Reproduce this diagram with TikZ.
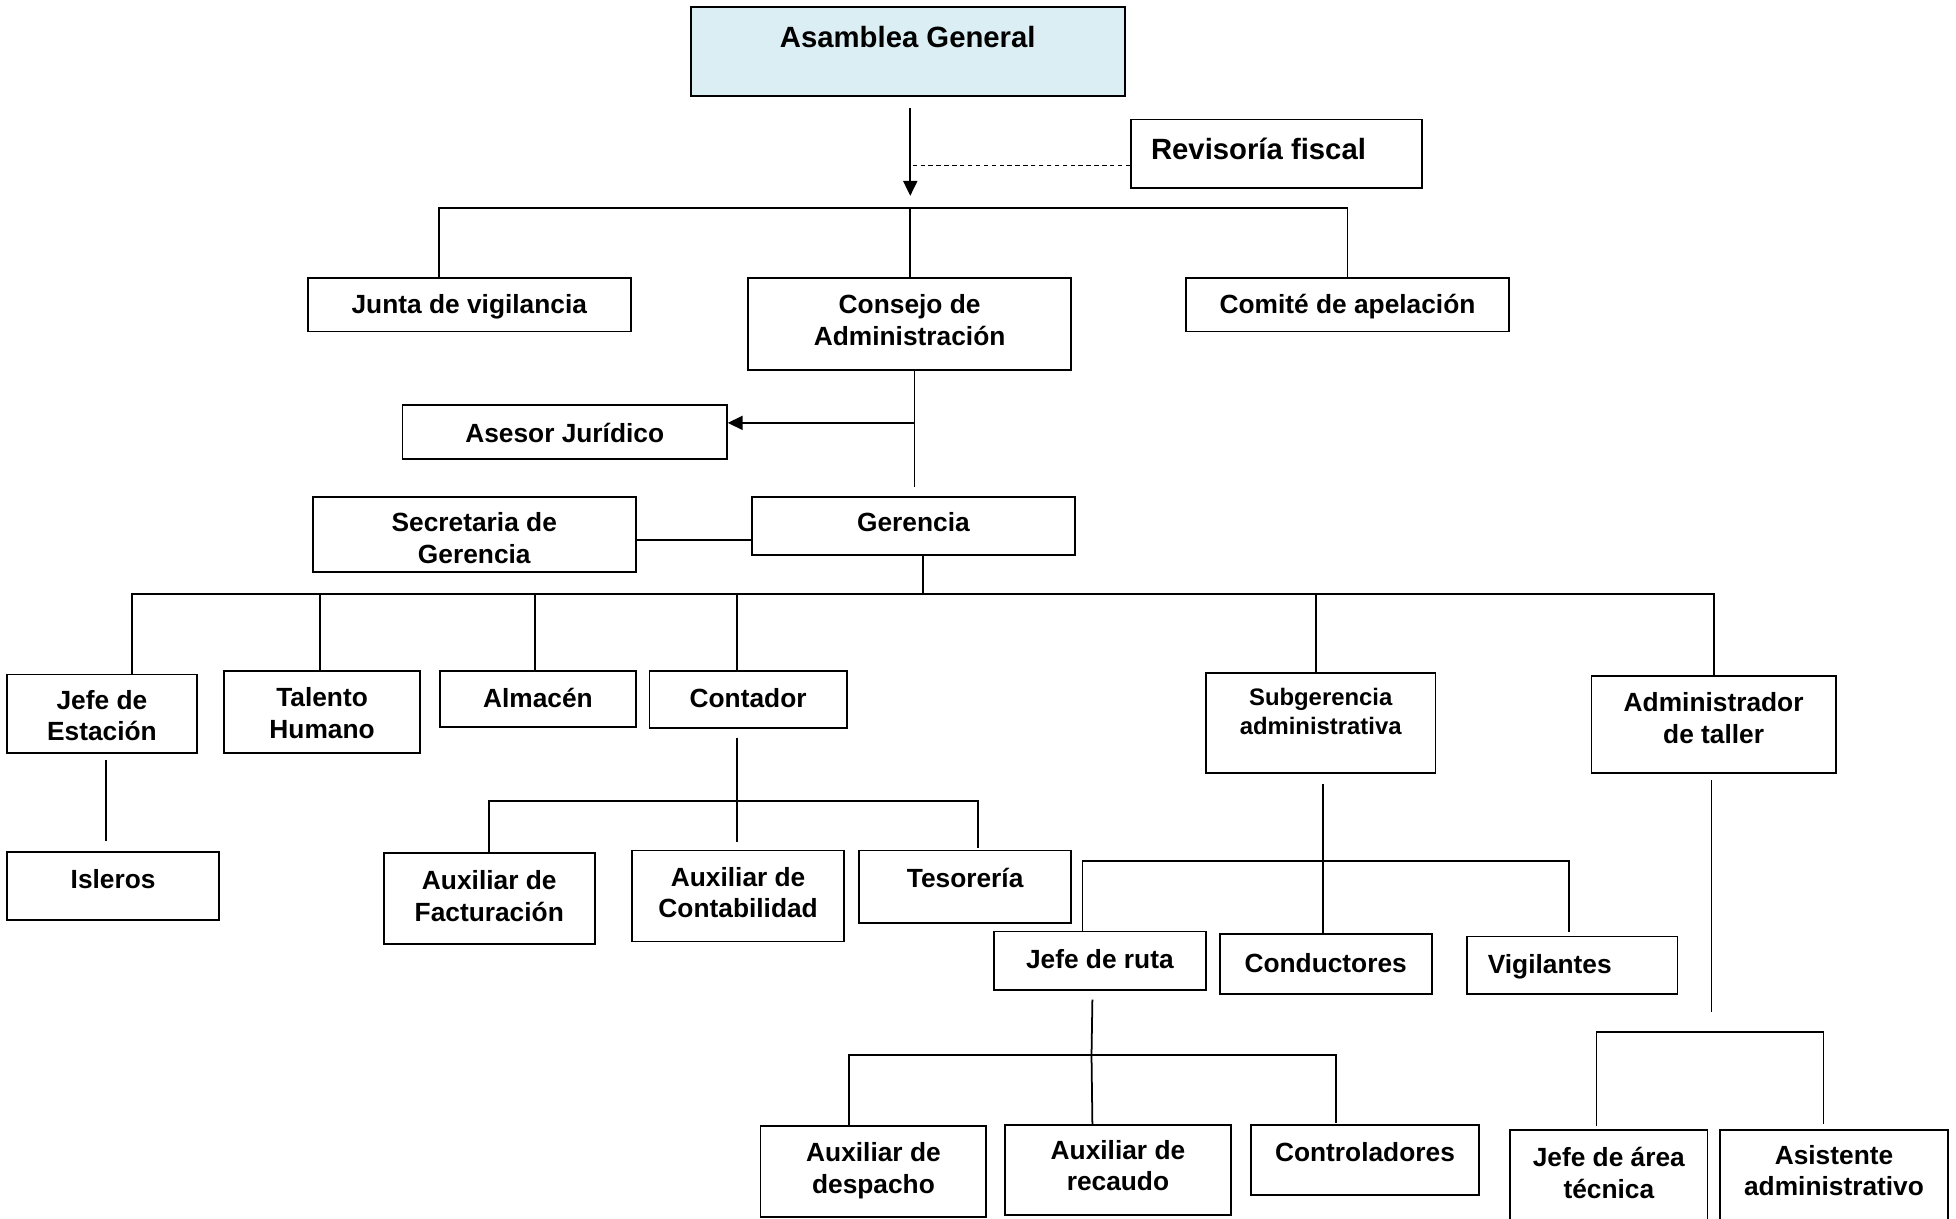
\documentclass[tikz,border=0pt]{standalone}
\usepackage{fontspec}
\setmainfont{Liberation Sans}
\usetikzlibrary{arrows.meta,calc}
\newdimen\pxu \pxu=0.025cm
\newcommand{\orgtext}[4][11]{\parbox[c][#3\pxu][t]{#2\pxu}{\centering\vspace*{#1\pxu}\strut #4}}
\definecolor{asambleablue}{HTML}{DAEEF3}

\begin{document}
\begin{tikzpicture}[x=0.025cm, y=-0.025cm, line width=1pt,
orgbox/.style={draw, inner sep=0pt, anchor=north west, font=\bfseries\fontsize{15}{18}\selectfont},
bigtext/.style={font=\bfseries\fontsize{16.7}{20}\selectfont},
smalltext/.style={font=\bfseries\fontsize{13.6}{16.4}\selectfont},
linkarrow/.style={-{Triangle[length=8.5pt,width=8pt]}},
dashline/.style={dash pattern=on 2.5pt off 2pt}]

\path[use as bounding box, fill=white] (0,0) rectangle (1568,977);

\node[orgbox, fill=asambleablue, bigtext] (asamblea) at (553,5) {\orgtext[12.7]{348}{71}{Asamblea General}};
\node[orgbox, bigtext] (revisoria) at (906,95) {\orgtext[12.7]{233}{55}{\hspace*{16\pxu}Revisoría fiscal\hspace*{\fill}}};
\node[orgbox] (junta) at (246,222) {\orgtext{259}{43}{Junta de vigilancia}};
\node[orgbox] (consejo) at (599,222) {\orgtext{259}{74}{Consejo de\\Administración}};
\node[orgbox] (comite) at (950,222) {\orgtext{259}{43}{Comité de apelación}};
\node[orgbox] (asesor) at (322,324) {\orgtext[12]{260}{43}{Asesor Jurídico}};
\node[orgbox] (gerencia) at (602,398) {\orgtext[10]{259}{46}{Gerencia}};
\node[orgbox] (secretaria) at (250,398) {\orgtext[10]{259}{60}{Secretaria de\\Gerencia}};
\node[orgbox] (jefeest) at (5,540) {\orgtext[10]{152}{63}{Jefe de\\Estación}};
\node[orgbox] (talento) at (179,537) {\orgtext{157}{66}{Talento\\Humano}};
\node[orgbox] (almacen) at (352,537) {\orgtext[12]{157}{45}{Almacén}};
\node[orgbox] (contador) at (520,537) {\orgtext[12]{158}{46}{Contador}};
\node[orgbox, smalltext] (subger) at (966,539) {\orgtext[10]{184}{80}{Subgerencia\\administrativa}};
\node[orgbox] (taller) at (1275,541) {\orgtext{196}{78}{Administrador\\de taller}};
\node[orgbox] (isleros) at (5,682) {\orgtext[12]{170}{55}{Isleros}};
\node[orgbox] (auxfact) at (307,683) {\orgtext[12]{169}{73}{Auxiliar de\\Facturación}};
\node[orgbox] (auxcont) at (506,681) {\orgtext{170}{73}{Auxiliar de\\Contabilidad}};
\node[orgbox] (tesoreria) at (688,681) {\orgtext[12]{170}{58}{Tesorería}};
\node[orgbox] (jeferuta) at (796,746) {\orgtext[12]{170}{47}{Jefe de ruta}};
\node[orgbox] (conductores) at (977,748) {\orgtext[13]{170}{48}{Conductores}};
\node[orgbox] (vigilantes) at (1175,750) {\orgtext[12]{169}{46}{\hspace*{17\pxu}Vigilantes\hspace*{\fill}}};
\node[orgbox] (auxdesp) at (609,902) {\orgtext{181}{73}{Auxiliar de\\despacho}};
\node[orgbox] (auxrec) at (805,901) {\orgtext[10]{181}{72}{Auxiliar de\\recaudo}};
\node[orgbox] (controladores) at (1002,901) {\orgtext[12]{183}{56}{Controladores}};
\node[orgbox] (jefearea) at (1210,905) {\orgtext[12]{158}{90}{Jefe de área\\técnica}};
\node[orgbox] (asistente) at (1378,905) {\orgtext[10]{183}{90}{Asistente\\administrativo}};

\coordinate (agout) at ($(asamblea.south)+(2,9)$);
\coordinate (bus1) at (728,167);
\draw[linkarrow] (agout) -- ($(agout |- bus1)+(0,-10)$);
\draw[dashline] ($(revisoria.west)+(0,9.5)$) -- ($(revisoria.west -| agout)+(0,9.5)$);
\draw ($(junta.north)+(-24.5,0)$) |- (bus1) -| (comite.north);
\draw (consejo.north) -- (consejo.north |- bus1);

\coordinate (spine) at (733,339);
\draw (consejo.south -| spine) -- ($(gerencia.north -| spine)+(0,-8)$);
\draw[linkarrow] (spine) -- (asesor.east |- spine);
\draw ($(secretaria.east)+(0,4)$) -- ($(gerencia.west)+(0,11)$);

\coordinate (bus2) at (740,476);
\draw (gerencia.south -| bus2) -- (bus2);
\draw ($(jefeest.north)+(24,0)$) |- (bus2) -| (taller.north);
\foreach \n/\dx in {talento/-1.5,almacen/-2.5,contador/-9,subger/-4}
  \draw ($(\n.north)+(\dx,0)$) -- ($(\n.north |- bus2)+(\dx,0)$);
\draw ($(jefeest.south)+(3,5)$) -- ($(jefeest.south |- isleros.north)+(3,-8)$);

\coordinate (bus3) at (590,642);
\draw ($(contador.south)+(-9,7)$) -- ($(auxcont.north)+(-1,-6)$);
\draw (auxfact.north) |- (bus3) -| ($(tesoreria.north)+(10,-1)$);

\coordinate (bus4) at (1060,690);
\draw ($(subger.south)+(2,8)$) -- ($(conductores.north)+(-2,0)$);
\draw ($(jeferuta.north)+(-14,0)$) |- (bus4) -| ($(vigilantes.north)+(-2.5,-3)$);

\coordinate (bus5) at (875,846);
\draw ($(jeferuta.south)+(-6,7)$) -- (bus5);
\draw ($(auxdesp.north)+(-19.5,0)$) |- (bus5) -| ($(controladores.north)+(-23.5,-1)$);
\draw ($(auxrec.north)+(-20.5,0)$) -- (bus5);

\coordinate (tallerend) at (1372,811);
\draw ($(taller.south -| tallerend)+(0,5)$) -- (tallerend);
\coordinate (bus6) at (1370,827);
\draw ($(jefearea.north)+(-10,-2)$) |- (bus6) -| ($(asistente.north)+(-8.5,-4)$);
\end{tikzpicture}
\end{document}
